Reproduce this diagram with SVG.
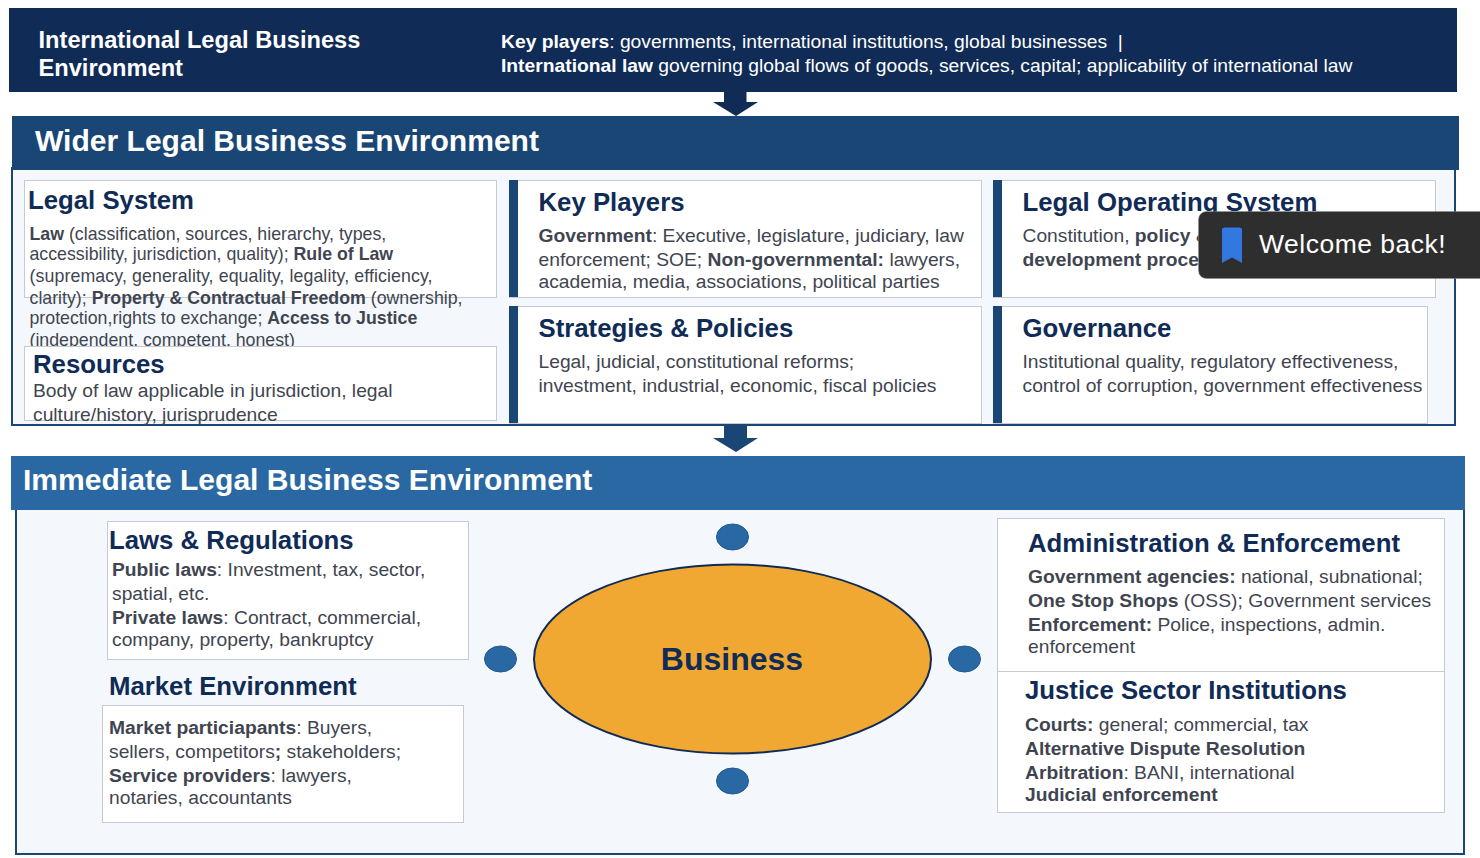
<svg xmlns="http://www.w3.org/2000/svg" width="1480" height="858" viewBox="0 0 1480 858">
<style>
text{font-family:"Liberation Sans",Arial,sans-serif;white-space:pre}
.h{font-weight:700;font-size:25.75px;fill:#0f2b56}
.b{font-size:19.25px;fill:#3f4550}
.s{font-size:17.75px;fill:#3f4550}
.k{font-weight:700}
.w{font-size:19.28px;fill:#fff}
.t{font-size:30.05px;font-weight:700;fill:#fff}
.i{font-size:23.65px;font-weight:700;fill:#fff}
.box{fill:#fff;stroke:#c5cad6;stroke-width:1}
.bar{fill:#1a4676}
.dot{fill:#2a68a3;stroke:#1f5a94;stroke-width:1}
</style>
<defs>
<clipPath id="cp"><rect x="0" y="0" width="1480" height="425"/></clipPath>
</defs>
<rect width="1480" height="858" fill="#fff"/>

<g id="international">
<rect x="9" y="8" width="1448" height="84" fill="#0f2b56"/>
<text x="38.500" y="48" class="i">International Legal Business</text>
<text x="38.500" y="76" class="i">Environment</text>
<text x="501" y="47.500" class="w"><tspan class="k">Key players</tspan>: governments, international institutions, global businesses  |</text>
<text x="501" y="71.500" class="w"><tspan class="k">International law</tspan> governing global flows of goods, services, capital; applicability of international law</text>
</g>

<g id="wider">
<rect x="12" y="168" width="1443" height="257" fill="#f4f8fc" stroke="#1a4676" stroke-width="2"/>
<rect x="12" y="116" width="1447" height="54" fill="#1a4676"/>
<text x="35" y="151" class="t">Wider Legal Business Environment</text>
</g>

<g id="legal-system">
<rect class="box" x="24.500" y="180.500" width="472" height="117"/>
<text x="28" y="209" class="h">Legal System</text>
<text x="29.500" y="240" class="s"><tspan class="k">Law</tspan> (classification, sources, hierarchy, types,</text>
<text x="29.500" y="260" class="s">accessibility, jurisdiction, quality); <tspan class="k">Rule of Law</tspan></text>
<text x="29.500" y="282" class="s" letter-spacing=".1">(supremacy, generality, equality, legality, efficiency,</text>
<text x="29.500" y="304" class="s">clarity); <tspan class="k">Property &amp; Contractual Freedom</tspan> (ownership,</text>
<text x="29.500" y="324" class="s">protection,rights to exchange; <tspan class="k">Access to Justice</tspan></text>
<text x="29.500" y="346" class="s">(independent, competent, honest)</text>
</g>

<g id="resources">
<rect class="box" x="24.500" y="346.500" width="472" height="74"/>
<text x="33" y="373" class="h">Resources</text>
<g clip-path="url(#cp)">
<text x="33" y="397" class="b">Body of law applicable in jurisdiction, legal</text>
<text x="33" y="421" class="b">culture/history, jurisprudence</text>
</g>
</g>

<g id="key-players">
<rect class="box" x="509.500" y="180.500" width="472" height="117"/>
<rect class="bar" x="509" y="180" width="9" height="117"/>
<text x="538.500" y="211" class="h">Key Players</text>
<text x="538.500" y="242" class="b"><tspan class="k">Government</tspan>: Executive, legislature, judiciary, law</text>
<text x="538.500" y="266" class="b">enforcement; SOE; <tspan class="k">Non-governmental:</tspan> lawyers,</text>
<text x="538.500" y="288" class="b">academia, media, associations, political parties</text>
</g>

<g id="strategies">
<rect class="box" x="509.500" y="306.500" width="472" height="117"/>
<rect class="bar" x="509" y="306" width="9" height="117"/>
<text x="538.500" y="337" class="h">Strategies &amp; Policies</text>
<text x="538.500" y="368" class="b">Legal, judicial, constitutional reforms;</text>
<text x="538.500" y="392" class="b">investment, industrial, economic, fiscal policies</text>
</g>

<g id="legal-operating">
<rect class="box" x="993.500" y="180.500" width="442" height="117"/>
<rect class="bar" x="993" y="180" width="9" height="117"/>
<text x="1022.500" y="211" class="h">Legal Operating System</text>
<text x="1022.500" y="242" class="b">Constitution, <tspan class="k">policy &amp;</tspan></text>
<text x="1022.500" y="266" class="b"><tspan class="k">development proce</tspan></text>
</g>

<g id="governance">
<rect class="box" x="993.500" y="306.500" width="434" height="117"/>
<rect class="bar" x="993" y="306" width="9" height="117"/>
<text x="1022.500" y="337" class="h">Governance</text>
<text x="1022.500" y="368" class="b">Institutional quality, regulatory effectiveness,</text>
<text x="1022.500" y="392" class="b">control of corruption, government effectiveness</text>
</g>

<g id="immediate">
<rect x="16" y="508" width="1448" height="346" fill="#f4f8fc" stroke="#1a4676" stroke-width="2"/>
<rect x="11" y="456" width="1454" height="54" fill="#2a68a3"/>
<text x="23" y="490" class="t">Immediate Legal Business Environment</text>
</g>

<g id="laws">
<rect class="box" x="107.500" y="521.500" width="361" height="138"/>
<text x="109" y="549" class="h">Laws &amp; Regulations</text>
<text x="112" y="576" class="b"><tspan class="k">Public laws</tspan>: Investment, tax, sector,</text>
<text x="112" y="600" class="b">spatial, etc.</text>
<text x="112" y="624" class="b"><tspan class="k">Private laws</tspan>: Contract, commercial,</text>
<text x="112" y="646" class="b">company, property, bankruptcy</text>
</g>

<g id="market">
<text x="109" y="695" class="h">Market Environment</text>
<rect class="box" x="102.500" y="705.500" width="361" height="117"/>
<text x="109" y="734" class="b"><tspan class="k">Market particiapants</tspan>: Buyers,</text>
<text x="109" y="758" class="b">sellers, competitors<tspan class="k">;</tspan> stakeholders;</text>
<text x="109" y="782" class="b"><tspan class="k">Service providers</tspan>: lawyers,</text>
<text x="109" y="804" class="b">notaries, accountants</text>
</g>

<g id="admin">
<rect class="box" x="997.500" y="518.500" width="447" height="153"/>
<text x="1028" y="552" class="h">Administration &amp; Enforcement</text>
<text x="1028" y="583" class="b"><tspan class="k">Government agencies:</tspan> national, subnational;</text>
<text x="1028" y="607" class="b" letter-spacing=".05"><tspan class="k">One Stop Shops</tspan> (OSS); Government services</text>
<text x="1028" y="631" class="b"><tspan class="k">Enforcement:</tspan> Police, inspections, admin.</text>
<text x="1028" y="653" class="b">enforcement</text>
</g>

<g id="justice">
<rect class="box" x="997.500" y="671.500" width="447" height="141"/>
<text x="1025" y="699" class="h">Justice Sector Institutions</text>
<text x="1025" y="731" class="b"><tspan class="k">Courts:</tspan> general; commercial, tax</text>
<text x="1025" y="755" class="b"><tspan class="k">Alternative Dispute Resolution</tspan></text>
<text x="1025" y="779" class="b"><tspan class="k">Arbitration</tspan>: BANI, international</text>
<text x="1025" y="801" class="b"><tspan class="k">Judicial enforcement</tspan></text>
</g>

<g id="business">
<ellipse cx="732.500" cy="659" rx="198.500" ry="94.500" fill="#f0a832" stroke="#0f2b56" stroke-width="2"/>
<text x="732" y="670" font-size="32" font-weight="700" fill="#0f2b56" text-anchor="middle">Business</text>
</g>

<g id="connectors">
<ellipse class="dot" cx="732.500" cy="537" rx="16" ry="13"/>
<ellipse class="dot" cx="500.500" cy="659" rx="16" ry="13"/>
<ellipse class="dot" cx="964.500" cy="659" rx="16" ry="13"/>
<ellipse class="dot" cx="732.500" cy="781" rx="16" ry="13"/>
<polygon points="724,92 746.500,92 746.500,102 758,102 736,116 713,102 724,102" fill="#0f2b56"/>
<polygon points="724,426 747,426 747,438 758,438 736,452 713,438 724,438" fill="#1a4676"/>
</g>

<g id="toast">
<rect x="1198.500" y="211.500" width="290" height="67" rx="8" fill="#2e2e2e" stroke="#8a8a8a" stroke-opacity=".5"/>
<path d="M1222 230q0-2.500 2.500-2.500h15q2.500 0 2.500 2.500v33l-10-5.500-10 5.500z" fill="#3377e0"/>
<text x="1259" y="253" font-size="26.500" letter-spacing=".5" fill="#fff">Welcome back!</text>
</g>
</svg>
